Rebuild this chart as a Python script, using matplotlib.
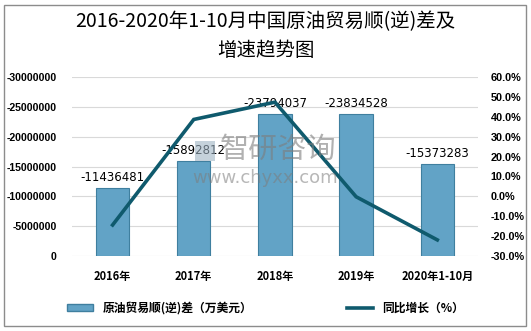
import matplotlib
matplotlib.use("Agg")
import matplotlib.pyplot as plt
from matplotlib.patches import Rectangle
from matplotlib.lines import Line2D
from matplotlib.patches import Patch
import numpy as np

plt.rcParams['font.family'] = ['Noto Sans CJK SC', 'DejaVu Sans']

years = ['2016年', '2017年', '2018年', '2019年', '2020年1-10月']
balance = [-11436481, -15892812, -23794037, -23834528, -15373283]   # 万美元
growth = [-14.4, 38.7, 47.4, -0.2, -21.9]                            # %

bar_color = '#62a3c6'
bar_edge = '#3f7f9f'
line_color = '#0f5a6d'
num_font = 'Liberation Sans'

fig = plt.figure(figsize=(5.31, 3.31), dpi=100)
fig.patches.append(Rectangle((0.008, 0.015), 0.982, 0.97, transform=fig.transFigure,
                             fill=False, edgecolor='#8c8c8c', linewidth=1.0))

ax = fig.add_axes([0.1356, 0.2266, 0.7644, 0.5404])
x = np.arange(len(years))
mag = [abs(v) for v in balance]
ax.bar(x, mag, width=0.41, color=bar_color, edgecolor=bar_edge, linewidth=0.8, zorder=2)
for xi, m, v in zip(x, mag, balance):
    ax.text(xi, m + 700000, str(v), ha='center', va='bottom', fontsize=8.5,
            family='DejaVu Sans', zorder=5)

ax.set_ylim(0, 30000000)
ax.set_xlim(-0.5, len(years) - 0.5)
ax.set_yticks(np.arange(0, 30000001, 5000000))
ax.set_yticklabels(['0'] + ['-%d' % t for t in range(5000000, 30000001, 5000000)],
                   fontsize=7.6, fontweight='bold', family=num_font)
ax.set_xticks(x)
ax.set_xticklabels(years, fontsize=8, fontweight='bold')
ax.tick_params(axis='both', length=0)
ax.tick_params(axis='x', pad=10)
ax.tick_params(axis='y', pad=11)
ax.grid(axis='y', color='#d9d9d9', linewidth=0.8, zorder=0)
ax.set_axisbelow(True)
for s in ax.spines.values():
    s.set_visible(False)

ax2 = ax.twinx()
ax2.plot(x, growth, color=line_color, linewidth=2.6, zorder=4, solid_joinstyle='miter')
ax2.set_ylim(-30, 60)
ax2.set_yticks(np.arange(-30, 61, 10))
ax2.set_yticklabels(['%.1f%%' % t for t in range(-30, 61, 10)],
                    fontsize=7.8, fontweight='bold', family=num_font)
ax2.tick_params(axis='y', length=0, pad=9)
for s in ax2.spines.values():
    s.set_visible(False)

# watermark
fig.text(0.524, 0.547, '智研咨询', ha='center', va='center', fontsize=21,
         color='#7d7d7d', alpha=0.6, zorder=10)
fig.text(0.50, 0.462, 'www.chyxx.com', ha='center', va='center', fontsize=13,
         color='#7d7d7d', alpha=0.55, zorder=10, family='DejaVu Sans')
fig.patches.append(Rectangle((0.368, 0.515), 0.036, 0.06, transform=fig.transFigure,
                             facecolor='#9fb4c4', edgecolor='none', alpha=0.6, zorder=10))

fig.text(0.5, 0.892, '2016-2020年1-10月中国原油贸易顺(逆)差及\n增速趋势图', ha='center',
         va='center', fontsize=14, fontweight='medium', linespacing=1.5)

handles = [Patch(facecolor=bar_color, edgecolor=bar_edge),
           Line2D([0], [0], color=line_color, linewidth=2.6)]
fig.legend(handles, ['原油贸易顺(逆)差（万美元）', '同比增长（%）'], loc='center',
           bbox_to_anchor=(0.5, 0.07), ncol=2, frameon=False,
           prop={'weight': 'bold', 'size': 8.5}, columnspacing=8, handlelength=2.2,
           handleheight=0.5)

fig.savefig('out.png', dpi=100)
